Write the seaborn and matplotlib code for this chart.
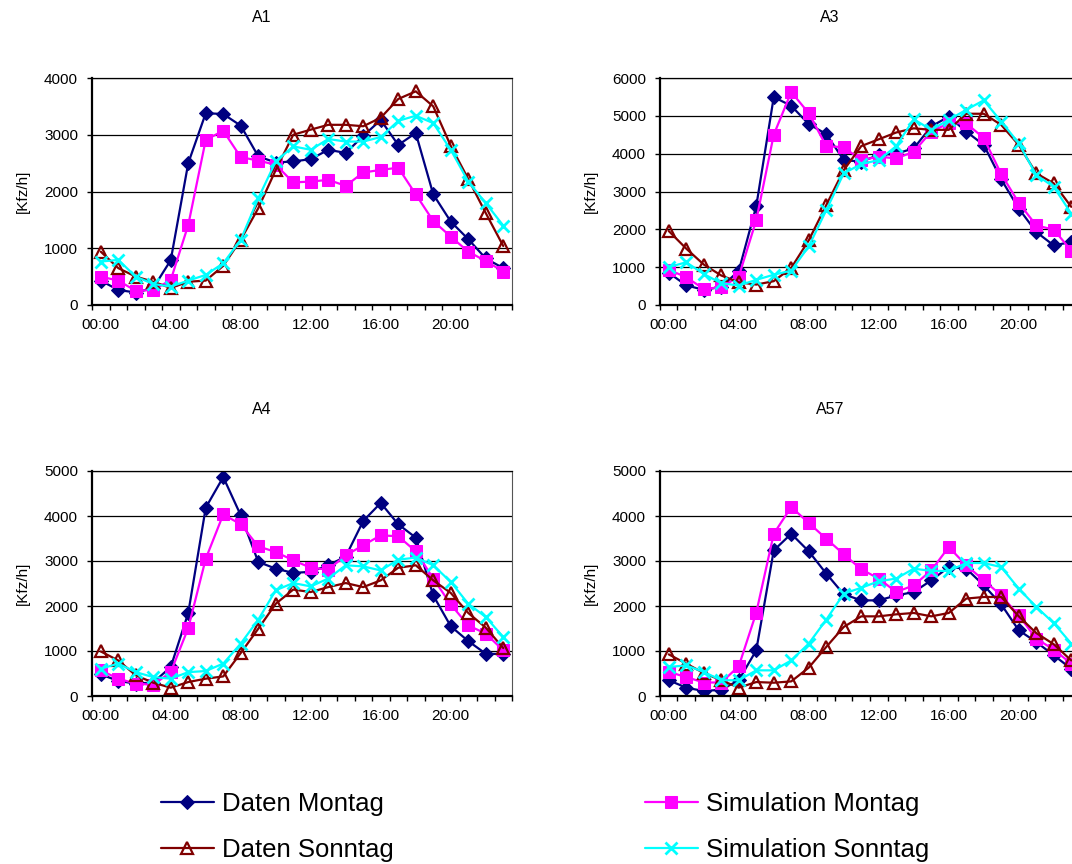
import numpy as np
import pandas as pd
import matplotlib
matplotlib.use("Agg")
import matplotlib.pyplot as plt
from matplotlib.ticker import FixedLocator, NullFormatter, FixedFormatter
import seaborn as sns

# ---- data: hourly traffic volume [Kfz/h], hours 0..23 ----
hours = list(range(24))
hour_labels = ["00:00", "04:00", "08:00", "12:00", "16:00", "20:00"]
hour_label_pos = [0, 4, 8, 12, 16, 20]

series_names = ["Daten Montag", "Simulation Montag", "Daten Sonntag", "Simulation Sonntag"]

a1_daten_montag = [430, 265, 220, 300, 790, 2500, 3380, 3365, 3160, 2620, 2510, 2530,
                   2570, 2735, 2680, 2980, 3260, 2820, 3030, 1950, 1470, 1160, 820, 650]
a1_sim_montag = [500, 430, 250, 265, 440, 1410, 2910, 3070, 2605, 2545, 2470, 2160,
                 2175, 2205, 2100, 2335, 2380, 2420, 1950, 1480, 1205, 940, 775, 590]
a1_daten_sonntag = [940, 650, 500, 410, 300, 410, 430, 690, 1150, 1705, 2380, 3000,
                    3090, 3175, 3175, 3150, 3300, 3630, 3765, 3500, 2805, 2220, 1620, 1040]
a1_sim_sonntag = [765, 795, 500, 370, 325, 430, 530, 735, 1150, 1880, 2530, 2795,
                  2735, 2925, 2880, 2880, 2960, 3245, 3335, 3205, 2735, 2175, 1795, 1400]

a3_daten_montag = [850, 520, 400, 480, 900, 2610, 5495, 5265, 4780, 4520, 3830, 3790,
                   3965, 4000, 4140, 4720, 4980, 4585, 4230, 3320, 2550, 1930, 1575, 1665]
a3_sim_montag = [930, 735, 425, 470, 750, 2240, 4500, 5630, 5070, 4200, 4170, 3830,
                 3920, 3875, 4050, 4585, 4805, 4805, 4410, 3460, 2700, 2105, 1990, 1440]
a3_daten_sonntag = [1955, 1490, 1070, 780, 600, 540, 630, 980, 1710, 2640, 3565, 4200,
                    4380, 4560, 4670, 4630, 4630, 5055, 5055, 4760, 4230, 3480, 3215, 2595]
a3_sim_sonntag = [1000, 1130, 820, 575, 515, 665, 800, 910, 1550, 2505, 3480, 3725,
                  3830, 4200, 4910, 4630, 4895, 5160, 5410, 4850, 4275, 3435, 3125, 2415]

a4_daten_montag = [480, 335, 275, 300, 645, 1845, 4185, 4865, 4015, 2980, 2830, 2735,
                   2760, 2905, 3100, 3890, 4290, 3815, 3520, 2235, 1550, 1220, 940, 930]
a4_sim_montag = [570, 385, 275, 250, 530, 1510, 3050, 4035, 3815, 3325, 3200, 3015,
                 2850, 2810, 3125, 3350, 3570, 3550, 3215, 2610, 2035, 1570, 1385, 1015]
a4_daten_sonntag = [990, 790, 460, 295, 185, 310, 385, 435, 955, 1495, 2050, 2365,
                    2310, 2420, 2510, 2420, 2570, 2850, 2905, 2570, 2290, 1845, 1520, 1065]
a4_sim_sonntag = [605, 720, 530, 420, 385, 530, 555, 720, 1165, 1695, 2350, 2510,
                  2435, 2610, 2905, 2880, 2790, 3030, 3075, 2905, 2535, 2050, 1755, 1310]

a57_daten_montag = [350, 185, 110, 140, 350, 1015, 3235, 3605, 3215, 2720, 2260, 2125,
                    2125, 2235, 2310, 2570, 2865, 2830, 2460, 2035, 1460, 1200, 905, 605]
a57_sim_montag = [535, 420, 300, 300, 660, 1850, 3605, 4200, 3845, 3495, 3150, 2815,
                  2610, 2310, 2460, 2790, 3310, 2905, 2570, 2235, 1790, 1275, 1030, 720]
a57_daten_sonntag = [925, 720, 510, 350, 185, 310, 295, 325, 630, 1090, 1535, 1770,
                     1770, 1815, 1845, 1770, 1845, 2165, 2200, 2200, 1770, 1400, 1150, 790]
a57_sim_sonntag = [645, 680, 535, 350, 350, 570, 570, 790, 1165, 1695, 2275, 2405,
                   2550, 2610, 2830, 2780, 2780, 2955, 2955, 2865, 2385, 1980, 1620, 1165]

panels = [
    ("A1", 4000, [a1_daten_montag, a1_sim_montag, a1_daten_sonntag, a1_sim_sonntag]),
    ("A3", 6000, [a3_daten_montag, a3_sim_montag, a3_daten_sonntag, a3_sim_sonntag]),
    ("A4", 5000, [a4_daten_montag, a4_sim_montag, a4_daten_sonntag, a4_sim_sonntag]),
    ("A57", 5000, [a57_daten_montag, a57_sim_montag, a57_daten_sonntag, a57_sim_sonntag]),
]

# ---- styling ----
sns.set_theme(style="white")
plt.rcParams["font.family"] = ["Liberation Sans", "DejaVu Sans"]
plt.rcParams["text.color"] = "black"
plt.rcParams["axes.labelcolor"] = "black"
plt.rcParams["xtick.color"] = "black"
plt.rcParams["ytick.color"] = "black"

styles = {
    "Daten Montag": dict(color="#000080", marker="D", markersize=7, markerfacecolor="#000080",
                         markeredgecolor="#000080"),
    "Simulation Montag": dict(color="#FF00FF", marker="s", markersize=9, markerfacecolor="#FF00FF",
                              markeredgecolor="#FF00FF"),
    "Daten Sonntag": dict(color="#800000", marker="^", markersize=9, markerfacecolor="none",
                          markeredgecolor="#800000", markeredgewidth=1.6),
    "Simulation Sonntag": dict(color="#00FFFF", marker="x", markersize=9,
                               markeredgecolor="#00FFFF", markeredgewidth=2.0),
}

W, H = 1072, 864
fig = plt.figure(figsize=(W / 100, H / 100), dpi=100)
fig.patch.set_facecolor("white")

# axes boxes in pixels: (left, top, right, bottom)
boxes = [(92, 78, 512, 305), (660, 78, 1080, 305),
         (92, 471, 512, 696), (660, 471, 1080, 696)]
title_y = [17, 17, 410, 410]

handles = None
for (title, ymax, values), (l, t, r, b), ty in zip(panels, boxes, title_y):
    ax = fig.add_axes([l / W, 1 - b / H, (r - l) / W, (b - t) / H])
    df = pd.DataFrame({"Stunde": hours})
    for name, vals in zip(series_names, values):
        df[name] = vals
    for name in series_names:
        sns.lineplot(data=df, x="Stunde", y=name, ax=ax, label=name, linewidth=1.6,
                     legend=False, **styles[name])
    if handles is None:
        handles, _ = ax.get_legend_handles_labels()

    ax.set_xlim(-0.5, 23.5)
    ax.set_ylim(0, ymax)
    ax.set_xlabel("")
    ax.set_ylabel("[Kfz/h]", fontsize=11)
    ax.yaxis.set_label_coords(-62 / (r - l), 0.5)

    # category boundaries carry the tick marks, labels sit at category centres
    ax.xaxis.set_major_locator(FixedLocator(np.arange(-0.5, 24, 1)))
    ax.xaxis.set_major_formatter(NullFormatter())
    ax.xaxis.set_minor_locator(FixedLocator(hour_label_pos))
    ax.xaxis.set_minor_formatter(FixedFormatter(hour_labels))
    ax.tick_params(axis="x", which="major", direction="out", length=3.6, width=1,
                   color="black", bottom=True)
    ax.tick_params(axis="x", which="minor", length=0, pad=9.5, labelsize=11)
    ax.set_yticks(np.arange(0, ymax + 1, 1000))
    ax.tick_params(axis="y", direction="out", length=3.6, width=1, color="black",
                   left=True, pad=6.5, labelsize=11)

    ax.yaxis.grid(True, color="black", linewidth=0.9)
    ax.xaxis.grid(False)
    ax.set_axisbelow(True)
    for side in ("left", "bottom"):
        ax.spines[side].set_color("black")
        ax.spines[side].set_linewidth(1.6)
    ax.spines["top"].set_color("black")
    ax.spines["top"].set_linewidth(0.9)
    ax.spines["right"].set_color("#555555")
    ax.spines["right"].set_linewidth(0.8)

    fig.text((l + 170) / W, 1 - ty / H, title, ha="center", va="center", fontsize=11.5)

legend_font = {"family": ["Liberation Sans Narrow", "Liberation Sans", "DejaVu Sans"],
               "size": 18.5}
common = dict(frameon=False, prop=legend_font, handlelength=2.06, handletextpad=0.3,
              labelspacing=0.85, borderaxespad=0, borderpad=0, loc="upper left")
fig.legend([handles[0], handles[2]], [series_names[0], series_names[2]],
           bbox_to_anchor=(161 / W, 1 - 792 / H), **common)
fig.legend([handles[1], handles[3]], [series_names[1], series_names[3]],
           bbox_to_anchor=(645 / W, 1 - 792 / H), **common)

fig.savefig("out.png", dpi=100, facecolor="white")
